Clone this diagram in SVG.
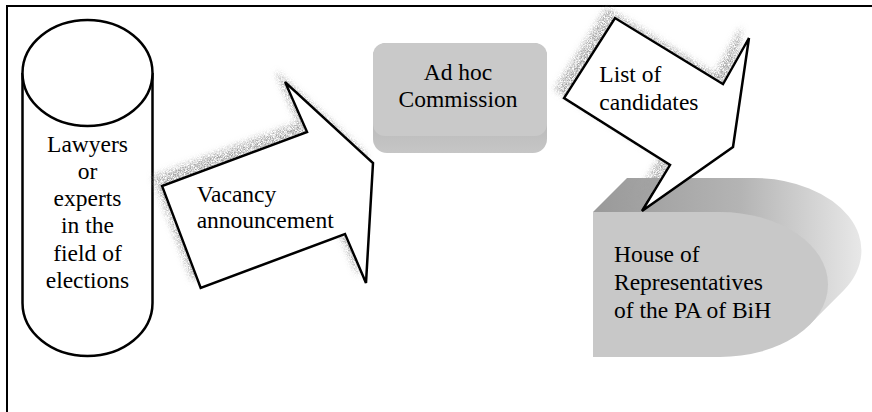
<svg xmlns="http://www.w3.org/2000/svg" width="872" height="412" viewBox="0 0 872 412">
  <style>
    text { font-family: 'Liberation Serif', 'Times New Roman', Tinos, 'DejaVu Serif', serif; font-size: 23.5px; fill: #000; }
    .mid { text-anchor: middle; }
    .outline { fill: #fff; stroke: #000; stroke-width: 2.5; stroke-linejoin: miter; }
  </style>
  <defs>
    <!-- grainy drop shadow cast to the upper left -->
    <filter id="grainShadow" x="-20%" y="-20%" width="140%" height="140%">
      <feOffset in="SourceAlpha" dx="-8" dy="-9" result="off"/>
      <feGaussianBlur in="off" stdDeviation="3" result="blur"/>
      <feTurbulence type="fractalNoise" baseFrequency="1.3" numOctaves="2" seed="4" result="noise"/>
      <feColorMatrix in="noise" type="matrix" values="0 0 0 0 0.35  0 0 0 0 0.35  0 0 0 0 0.35  0 0 0 2.4 -0.7" result="grain"/>
      <feComposite in="grain" in2="blur" operator="in" result="shadow"/>
      <feMerge>
        <feMergeNode in="shadow"/>
        <feMergeNode in="SourceGraphic"/>
      </feMerge>
    </filter>
    <linearGradient id="bevelGrad" x1="0" y1="0" x2="0" y2="1">
      <stop offset="0" stop-color="#9c9c9c"/>
      <stop offset="1" stop-color="#c6c6c6"/>
    </linearGradient>
    <linearGradient id="sideGrad" x1="0" y1="0" x2="1" y2="0">
      <stop offset="0" stop-color="#999999"/>
      <stop offset="0.55" stop-color="#b4b4b4"/>
      <stop offset="1" stop-color="#e8e8e8"/>
    </linearGradient>
  </defs>

  <!-- frame -->
  <g id="frame">
    <path d="M7,412 V6 H872" fill="none" stroke="#000" stroke-width="2"/>
  </g>

  <!-- source: cylinder -->
  <g id="lawyers">
    <path class="outline" d="M22.5,73 V303 A65,53 0 0 0 152.5,303 V73"/>
    <ellipse class="outline" cx="87.5" cy="73" rx="65" ry="53"/>
    <text class="mid" x="87.5" y="151.5">Lawyers</text>
    <text class="mid" x="87.5" y="178.8">or</text>
    <text class="mid" x="87.5" y="206">experts</text>
    <text class="mid" x="87.5" y="233.4">in the</text>
    <text class="mid" x="87.5" y="260.7">field of</text>
    <text class="mid" x="87.5" y="288">elections</text>
  </g>

  <!-- commission: bevelled box -->
  <g id="commission">
    <rect x="373" y="43" width="174" height="110" rx="14" fill="url(#bevelGrad)"/>
    <rect x="373" y="43" width="174" height="93" rx="12" fill="#c9c9c9"/>
    <text class="mid" x="458" y="80">Ad hoc</text>
    <text class="mid" x="458" y="107">Commission</text>
  </g>

  <!-- house: extruded D shape -->
  <g id="house">
    <path d="M593,212 L627,178 H754 A108,72.5 0 0 1 843.6,290.4 L809.6,324.4 L720,212 Z" fill="url(#sideGrad)"/>
    <path d="M593,212 H720 A108,72.5 0 0 1 720,357 H593 Z" fill="#c8c8c8"/>
    <text x="614" y="261.7">House of</text>
    <text x="614" y="290">Representatives</text>
    <text x="614" y="317.7">of the PA of BiH</text>
  </g>

  <!-- block arrows between the nodes -->
  <g id="connectors">
    <g id="vacancy">
      <polygon class="outline" filter="url(#grainShadow)" points="162,186 307,132 285,82 373,163 366,283 345,234 200.7,288"/>
      <text x="196.7" y="201.7">Vacancy</text>
      <text x="196.7" y="228.3">announcement</text>
    </g>
    <g id="candidates">
      <polygon class="outline" filter="url(#grainShadow)" points="615,18 723,84 749,38 733,147 642,211 670,165 564,98"/>
      <text x="599.3" y="81.7">List of</text>
      <text x="599.3" y="110">candidates</text>
    </g>
  </g>
</svg>
